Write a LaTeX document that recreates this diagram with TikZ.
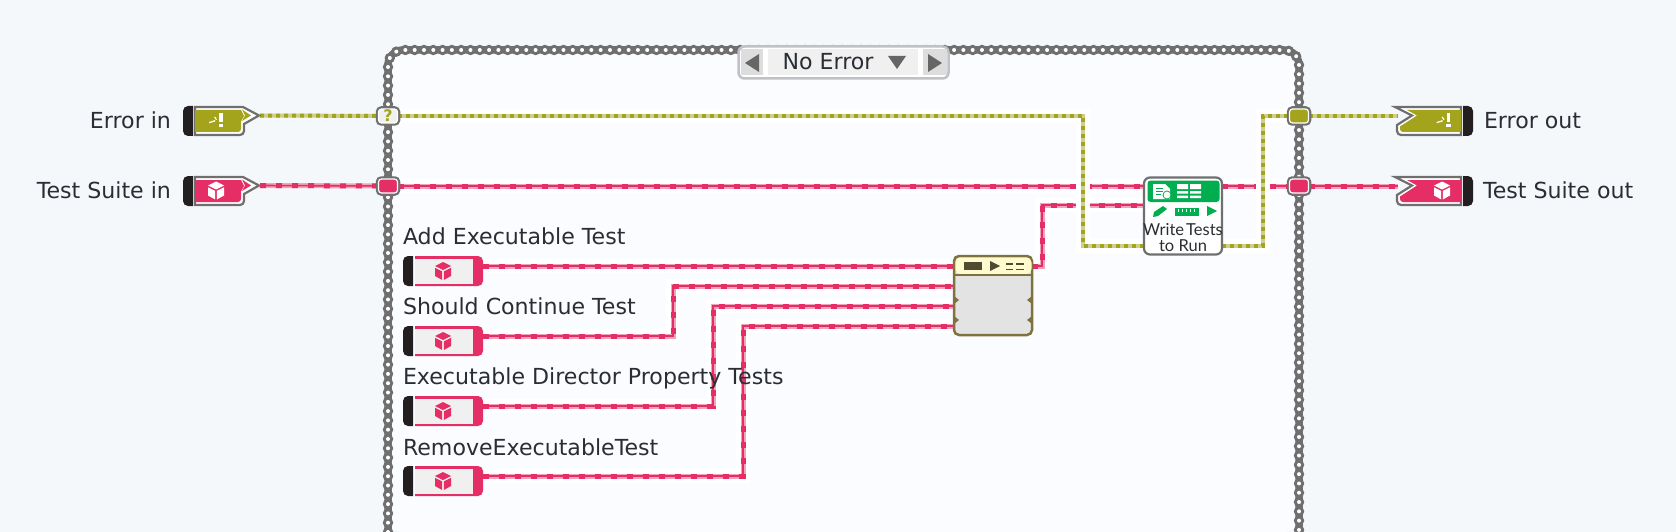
\documentclass[tikz,border=0pt]{standalone}
\usepackage{fontspec}
\setmainfont{DejaVu Sans}
\newfontfamily\iconfont{Lato}
\usetikzlibrary{backgrounds}
\definecolor{pagebg}{HTML}{F5F8FB}
\definecolor{casebg}{HTML}{FBFCFF}
\definecolor{framegray}{HTML}{6F6F6F}
\definecolor{inkdark}{HTML}{2A2E33}
\definecolor{capblack}{HTML}{231F20}
\definecolor{errolive}{HTML}{A3A31C}
\definecolor{errlight}{HTML}{CDCF90}
\definecolor{suitepink}{HTML}{E52E65}
\definecolor{suitelight}{HTML}{F3A3BB}
\definecolor{panelgray}{HTML}{F0F0F0}
\definecolor{selborder}{HTML}{BEC1C5}
\definecolor{vigreen}{HTML}{00AE4F}
\definecolor{mergeedge}{HTML}{7D7240}
\definecolor{mergehead}{HTML}{FFFBCF}
\definecolor{mergeink}{HTML}{4F4B33}
\newcommand{\tightword}{\spaceskip=2pt\relax}
\tikzset{
  pics/cubeicon/.style={code={
    \fill[#1] (0,-9) -- (8,-5) -- (0,-1) -- (-8,-5) -- cycle;
    \fill[#1] (-8,-3.2) -- (-0.8,0.4) -- (-0.8,9) -- (-8,5) -- cycle;
    \fill[#1] (8,-3.2) -- (0.8,0.4) -- (0.8,9) -- (8,5) -- cycle;
  }},
  pics/erricon/.style={code={
    \fill[white] (-1.8,-7) rectangle (1.8,2.5);
    \fill[white] (-2.2,4.2) rectangle (2.2,7);
    \fill[white] (-12,2) -- (-6,0) -- (-6,1.6) -- (-12,3.2) -- cycle;
    \fill[white] (-7,-3) -- (-5.4,-3) -- (-4,0) -- (-5,0) -- cycle;
  }},
  pics/ctlin/.style={code={
    \fill[capblack] (10,0) [rounded corners=5] -- (0,0) -- (0,30) [sharp corners] -- (10,30) -- cycle;
    \draw[framegray,line width=2.2,fill=white] (12,1) -- (60,1) -- (76,9.5) -- (61,18) [rounded corners=4] -- (61,29) [sharp corners] -- (12,29) -- cycle;
    \fill[#1] (12,4) -- (58,4) -- (61,10) -- (58,15.5) [rounded corners=3] -- (58,26) [sharp corners] -- (12,26) -- cycle;
    \fill[#1] (59,3.5) -- (68,9.5) -- (59,15) -- (62,9.5) -- cycle;
    \coordinate (-tip) at (77,9.5);
  }},
  pics/ctlout/.style={code={
    \fill[capblack] (68,0) [rounded corners=5] -- (78,0) -- (78,30) [sharp corners] -- (68,30) -- cycle;
    \draw[framegray,line width=2.2,fill=white] (66,1) -- (0,1) -- (17,9.5) -- (2,19) [rounded corners=4] -- (2,29) [sharp corners] -- (66,29) -- cycle;
    \fill[#1] (66,4) -- (12,4) -- (22,9.5) -- (5,20.5) [rounded corners=3] -- (5,26) [sharp corners] -- (66,26) -- cycle;
    \coordinate (-tip) at (3,10);
  }},
  pics/ctlconst/.style={code={
    \fill[capblack] (10,0) [rounded corners=5] -- (0,0) -- (0,30) [sharp corners] -- (10,30) -- cycle;
    \fill[suitepink] (12,0) [rounded corners=5] -- (80,0) -- (80,30) [sharp corners] -- (12,30) -- cycle;
    \fill[panelgray] (12,2.5) rectangle (70,27.5);
    \coordinate (-tip) at (80,10);
  }},
}
\begin{document}
\begin{tikzpicture}
  [x=1pt,y=-1pt,every node/.style={inner sep=0pt,outer sep=0pt},
   lbl/.style={font=\fontsize{22.1}{27}\selectfont,text=inkdark,anchor=base west},
   tunnel/.style={rectangle,rounded corners=3,minimum width=19,minimum height=14,draw=white,line width=1.2,fill=#1,
     preaction={draw=framegray,line width=5.5}},
   pinkwire/.style={draw=suitelight,line width=5,postaction={draw=suitepink,line width=1.6},
     postaction={draw=suitepink,line width=5,dash pattern=on 6pt off 10pt}},
   olivewire/.style={draw=errlight,line width=4,postaction={draw=errolive,line width=4,dash pattern=on 4pt off 4pt}},
   halo/.style={preaction={draw=white,line width=14}}]
 \useasboundingbox (0,0) rectangle (1676,532);

 % indicators on the left
 \node (errinlbl)[lbl,anchor=base east] at (171,129) {Error in};
 \node (tsinlbl)[lbl,anchor=base east] at (171,198) {Test Suite in};
 \pic (errin) at (183,106) {ctlin=errolive};
 \pic (tsin) at (183,176) {ctlin=suitepink};
 \pic at (221,120) {erricon};
 \pic at (216,190.5) {cubeicon=white};

 % indicators on the right
 \node (erroutlbl)[lbl] at (1484,129) {Error out};
 \node (tsoutlbl)[lbl] at (1483,198) {Test Suite out};
 \pic (errout) at (1395,106) {ctlout=errolive};
 \pic (tsout) at (1395,176) {ctlout=suitepink};
 \pic at (1448.5,120) {erricon};
 \pic at (1442,190.5) {cubeicon=white};

 % tunnels
 \node (errtun)[tunnel=panelgray,font=\bfseries\fontsize{16}{16}\selectfont,text=errolive] at (388,116) {?};
 \node (tsintun)[tunnel=suitepink] at (388,186) {};
 \node (errouttun)[tunnel=errolive] at (1299,116) {};
 \node (tsouttun)[tunnel=suitepink] at (1299,186) {};

 % case selector
 \node (selbox)[rectangle,rounded corners=6,draw=selborder,line width=2.5,fill=white,minimum width=210,minimum height=32] at (843.5,62.5) {};
 \node (selprev)[rectangle,fill=panelgray!92!black,minimum width=22,minimum height=26] at (752,62.5) {};
 \node (selnext)[rectangle,fill=panelgray!92!black,minimum width=24,minimum height=26] at (935,62.5) {};
 \node (selmid)[rectangle,fill=panelgray,minimum width=150,minimum height=26] at (843,62.5) {};
 \node (sellbl)[font=\fontsize{22.1}{27}\selectfont,text=inkdark] at (828,62) {No Error};
 \fill[black!60] (745,63) -- (759,54) -- (759,72) -- cycle;
 \fill[black!60] (928,54) -- (942,63) -- (928,72) -- cycle;
 \fill[black!60] (888,56) -- (906,56) -- (897,69) -- cycle;

 % constants
 \node (addlbl)[lbl] at (403,244) {Add Executable Test};
 \node (contlbl)[lbl] at (403,314) {Should Continue Test};
 \node (dirlbl)[lbl] at (403,384) {Executable Director Property Tests};
 \node (remlbl)[lbl] at (403,455) {RemoveExecutableTest};
 \foreach \nm/\ypos in {add/256,cont/326,dir/396,rem/466}{
   \pic (\nm) at (403,\ypos) {ctlconst};
   \pic at (443,\ypos+15) {cubeicon=suitepink};
 }

 % merge block
 \node (merge)[rectangle,rounded corners=5,draw=mergeedge,line width=2.5,fill=black!11,minimum width=78,minimum height=79,anchor=north west] at (954,256) {};
 \fill[mergehead,rounded corners=5] (955.5,257.5) -- (1031.5,257.5) -- (1031.5,274) -- (955.5,274) -- cycle;
 \draw[mergeedge,line width=2.5] (954,275) -- (1032,275);
 \fill[mergeink] (964,262) rectangle (982,270);
 \fill[mergeink] (990,261) -- (1000,266) -- (990,271) -- cycle;
 \foreach \ypos in {263,268.5}{
   \fill[mergeink] (1006,\ypos) rectangle (1013,\ypos+1.8);
   \fill[mergeink] (1016,\ypos) rectangle (1024,\ypos+1.8);
 }
 \foreach \ypos in {300,320}{
   \fill[mergeedge] (954,\ypos-4) -- (959,\ypos) -- (954,\ypos+4) -- cycle;
   \fill[mergeedge] (1032,\ypos-4) -- (1027,\ypos) -- (1032,\ypos+4) -- cycle;
 }

 % write tests block
 \node (wtr)[rectangle,rounded corners=6,draw=framegray,line width=2.2,fill=white,minimum width=78,minimum height=77,anchor=north west] at (1144,177.5) {};
 \fill[vigreen,rounded corners=3] (1147.5,180.5) -- (1219.5,180.5) -- (1219.5,202) -- (1147.5,202) -- cycle;
 \fill[white] (1153,184) -- (1165,184) -- (1170,189) -- (1170,199) -- (1153,199) -- cycle;
 \draw[vigreen,line width=1] (1156,188) -- (1163,188) (1156,191) -- (1163,191) (1156,194) -- (1161,194);
 \draw[vigreen,fill=white,line width=.8] (1167,195) circle (4);
 \fill[white] (1177,184) rectangle (1188,189) (1190,184) rectangle (1201,189)
   (1177,191) rectangle (1188,193.5) (1190,191) rectangle (1201,193.5)
   (1177,195.5) rectangle (1188,198) (1190,195.5) rectangle (1201,198);
 \fill[vigreen] (1153,217) -- (1154,212) -- (1163,206) -- (1167,209) -- (1158,216) -- cycle;
 \fill[vigreen] (1175,208) rectangle (1199,216);
 \foreach \xpos in {1178,1182,1186,1190,1194}
   \draw[white,line width=.7] (\xpos,208.5) -- (\xpos,212);
 \fill[vigreen] (1207,206) -- (1217,211) -- (1207,216) -- cycle;
 \node (wtrlbl)[align=center,font=\iconfont\fontsize{16.5}{16}\selectfont,text=inkdark] at (1183,238) {\tightword Write Tests\\to Run};

 % wire ends
 \coordinate (wtrA) at (1143,186);
 \coordinate (wtrB) at (1143,205);
 \coordinate (wtrE) at (1143,246);
 \coordinate (wtrC) at (1222,186);
 \coordinate (wtrF) at (1222,246);
 \coordinate (mergeA) at (954,266);
 \coordinate (mergeB) at (954,286);
 \coordinate (mergeC) at (954,306);
 \coordinate (mergeD) at (954,326);
 \coordinate (mergeR) at (1032,266);
 \coordinate (viaB) at (673,310);
 \coordinate (viaC) at (713,350);
 \coordinate (viaD) at (743,400);
 \coordinate (viaR) at (1042,235);
 \coordinate (viaE) at (1083,180);
 \coordinate (viaF) at (1263,180);

 \begin{scope}[on background layer]
 \fill[pagebg] (0,0) rectangle (1676,532);
 \fill[casebg,rounded corners=15] (388,532) -- (388,50) -- (1299,50) -- (1299,532) -- cycle;
 % chain of the case frame
 \draw[framegray,line width=7.5,rounded corners=15] (388,532) -- (388,50) -- (1299,50) -- (1299,532);
 \draw[framegray,line width=10.5,line cap=round,dash pattern=on 0pt off 9.3pt,rounded corners=15] (388,532) -- (388,50) -- (1299,50) -- (1299,532);
 \draw[white,line width=4,line cap=round,dash pattern=on 0pt off 9.3pt,rounded corners=15] (388,532) -- (388,50) -- (1299,50) -- (1299,532);

 \foreach \from/\to in {errin-tip/errtun,errouttun/errout-tip}
    \draw[olivewire] (\from) -- (\to);
 \foreach \from/\to in {tsin-tip/tsintun,tsouttun/tsout-tip}
    \draw[pinkwire] (\from) -- (\to);
 \foreach \from/\to in {tsintun/wtrA,wtrC/tsouttun,add-tip/mergeA}
    \draw[pinkwire,halo] (\from) -- (\to);
 \foreach \from/\via/\to in {cont-tip/viaB/mergeB,dir-tip/viaC/mergeC,rem-tip/viaD/mergeD,mergeR/viaR/wtrB}
    \draw[pinkwire,halo] (\from) -| (\via) |- (\to);
 \foreach \from/\via/\to in {errtun/viaE/wtrE,wtrF/viaF/errouttun}
    \draw[olivewire,halo] (\from) -| (\via) |- (\to);
 \end{scope}
\end{tikzpicture}
\end{document}
